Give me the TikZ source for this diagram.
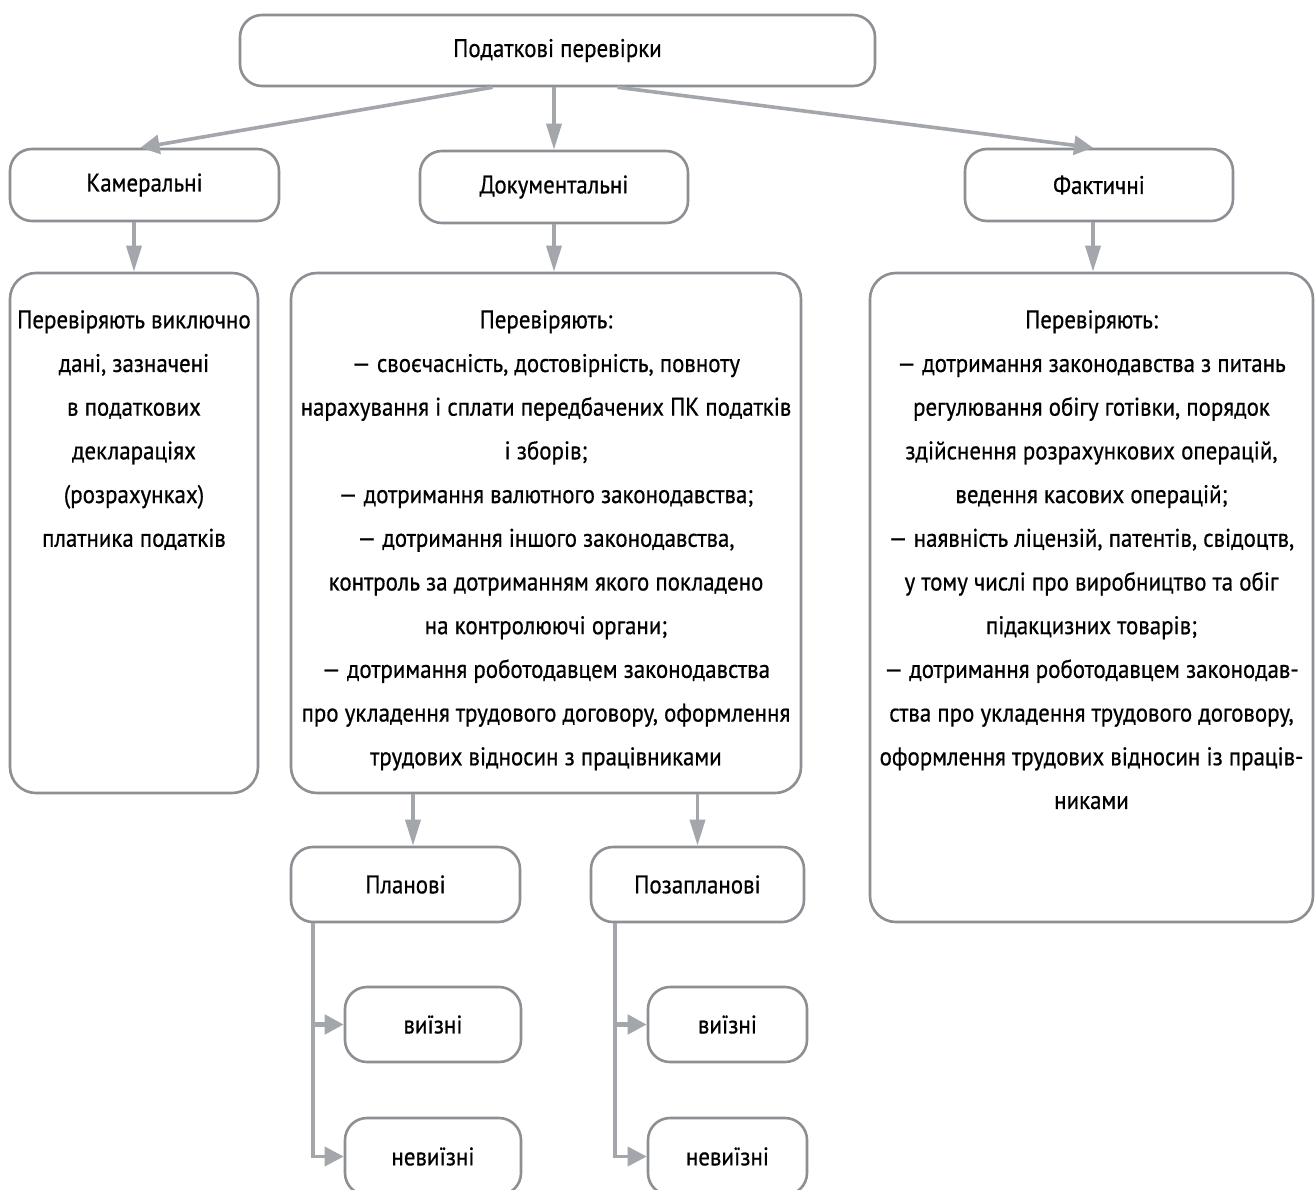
\documentclass[tikz,border=0pt]{standalone}
\usepackage{fontspec}
\setmainfont[FakeStretch=0.9,FakeBold=0.6]{PT Sans}
\usetikzlibrary{arrows.meta,calc}
\definecolor{boxgray}{HTML}{8C8F93}
\definecolor{arrgray}{HTML}{A3A6AA}
\tikzset{
  rbox/.style={draw=boxgray, line width=2.6pt, rounded corners=22pt, inner sep=0pt, fill=white},
  txt/.style={align=center, inner sep=0pt, anchor=north},
  arr/.style={draw=arrgray, line width=3.6pt, -{Triangle[length=19pt,width=19pt]}},
  varr/.style={draw=arrgray, line width=3.6pt, -{Triangle[length=26pt,width=15pt]}},
}
\begin{document}
\begin{tikzpicture}[x=1pt,y=-1pt, font=\fontsize{25.5}{43.7}\selectfont]
\useasboundingbox (0,0) rectangle (1316,1190);
\fill[white] (0,0) rectangle (1316,1190);
% level 0
\node[rbox, minimum width=635pt, minimum height=71pt] (top) at (557.5,50.5) {Податкові перевірки};
% level 1
\node[rbox, minimum width=269pt, minimum height=72pt] (kam) at (144.5,185) {Камеральні};
\node[rbox, minimum width=268pt, minimum height=72pt] (doc) at (554,187) {Документальні};
\node[rbox, minimum width=268pt, minimum height=72pt] (fact) at (1099,185) {Фактичні};
% level 2 boxes
\node[rbox, rounded corners=26pt, minimum width=248pt, minimum height=520pt] (kamB) at (134,533) {};
\node[rbox, rounded corners=26pt, minimum width=510pt, minimum height=520pt] (docB) at (546,533) {};
\node[rbox, rounded corners=26pt, minimum width=443pt, minimum height=649pt] (factB) at (1091.5,597.5) {};
\node[txt] (kamT) at (134,310) {Перевіряють виключно\\дані, зазначені\\в податкових\\деклараціях\\(розрахунках)\\платника податків};
\node[txt] (docT) at (546,310) {Перевіряють:\\— своєчасність, достовірність, повноту\\нарахування і сплати передбачених ПК податків\\і зборів;\\— дотримання валютного законодавства;\\— дотримання іншого законодавства,\\контроль за дотриманням якого покладено\\на контролюючі органи;\\— дотримання роботодавцем законодавства\\про укладення трудового договору, оформлення\\трудових відносин з працівниками};
\node[txt] (factT) at (1091.5,310) {Перевіряють:\\— дотримання законодавства з питань\\регулювання обігу готівки, порядок\\здійснення розрахункових операцій,\\ведення касових операцій;\\— наявність ліцензій, патентів, свідоцтв,\\у тому числі про виробництво та обіг\\підакцизних товарів;\\— дотримання роботодавцем законодав-\\ства про укладення трудового договору,\\оформлення трудових відносин із праців-\\никами};
% level 3
\node[rbox, minimum width=229pt, minimum height=75pt] (plan) at (405.5,884.5) {Планові};
\node[rbox, minimum width=213pt, minimum height=75pt] (poza) at (697.5,884.5) {Позапланові};
% level 4
\node[rbox, minimum width=176pt, minimum height=75pt] (v1) at (433,1024.5) {виїзні};
\node[rbox, minimum width=176pt, minimum height=77pt] (n1) at (433,1156.5) {невиїзні};
\node[rbox, minimum width=159pt, minimum height=75pt] (v2) at (727.5,1024.5) {виїзні};
\node[rbox, minimum width=159pt, minimum height=77pt] (n2) at (727.5,1156.5) {невиїзні};
% connector anchor points
\coordinate (tl) at ($(top.south)+(-65,0)$);
\coordinate (tr) at ($(top.south)+(60,0)$);
\coordinate (kt) at ($(kam.north)+(-4,0)$);
\coordinate (ft) at ($(fact.north)+(-6,0)$);
\coordinate (fb) at ($(fact.south)+(-6,0)$);
\coordinate (pa) at (413,0);
\coordinate (b1) at (313,0);
\coordinate (b2) at (615,0);
% connectors
\draw[arr] (tl) -- (kt);
\draw[varr] (doc.north |- top.south) -- (doc.north);
\draw[arr] (tr) -- (ft);
\draw[varr] (kamB.north |- kam.south) -- (kamB.north);
\draw[varr] (doc.south) -- (doc.south |- docB.north);
\draw[varr] (fb) -- (fb |- factB.north);
\draw[varr] (pa |- docB.south) -- (pa |- plan.north);
\draw[varr] (poza.north |- docB.south) -- (poza.north);
\draw[arr] (b1 |- plan.south) |- (n1.west);
\draw[arr, line width=5.5pt] (b1 |- v1.west) -- (v1.west);
\draw[arr] (b2 |- poza.south) |- (n2.west);
\draw[arr, line width=5.5pt] (b2 |- v2.west) -- (v2.west);
\end{tikzpicture}
\end{document}
